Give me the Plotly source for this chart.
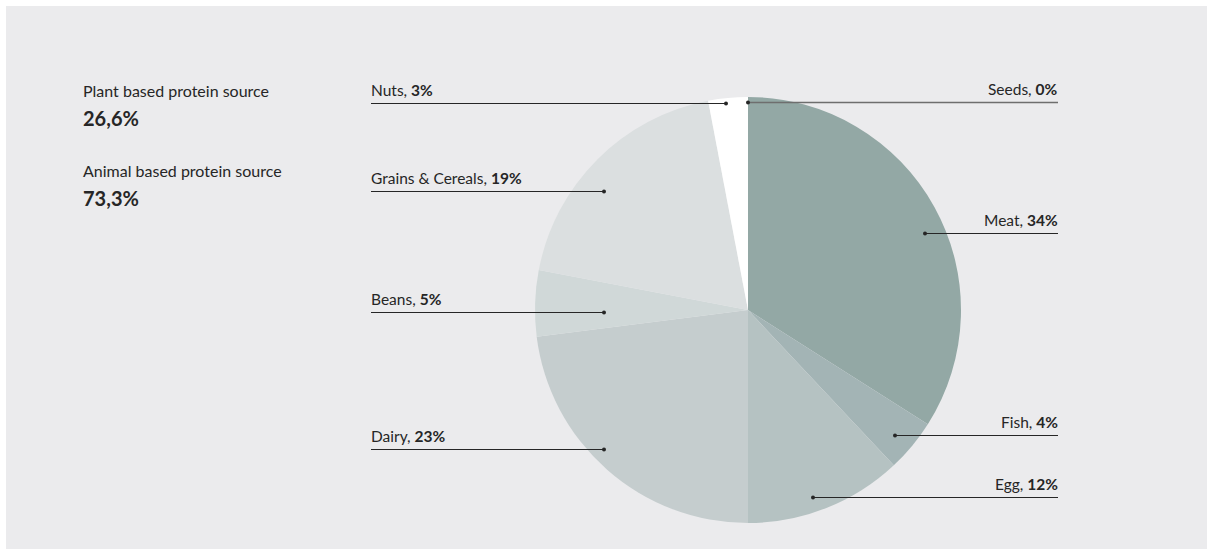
import plotly.graph_objects as go

# Protein sources, clockwise from 12 o'clock
categories = ["Seeds", "Meat", "Fish", "Egg", "Dairy", "Beans", "Grains & Cereals", "Nuts"]
shares = [0, 34, 4, 12, 23, 5, 19, 3]
slice_colors = ["#7f9592", "#93a8a5", "#a3b4b5", "#b5c2c2", "#c5cdce", "#d0d8d8", "#dbdfe0", "#ffffff"]

summary_titles = ["Plant based protein source", "Animal based protein source"]
summary_values = ["26,6%", "73,3%"]

W, H = 1214, 555
BG = "#ebebed"
INK = "#262626"
FONT = "Lato"

# pie placement (pixels)
cx, cy, r = 748, 310, 213

# leader layout per category: side, line y, inner end x
leaders = {
    "Seeds": ("right", 102.5, 748),
    "Meat": ("right", 233.5, 925),
    "Fish": ("right", 435.5, 895),
    "Egg": ("right", 497.5, 813),
    "Dairy": ("left", 449.5, 604),
    "Beans": ("left", 312.5, 604),
    "Grains & Cereals": ("left", 191.5, 604),
    "Nuts": ("left", 103.5, 726),
}
LEFT_X, RIGHT_X = 371, 1058

fig = go.Figure()

fig.add_trace(go.Pie(
    labels=categories,
    values=shares,
    sort=False,
    direction="clockwise",
    rotation=0,
    marker=dict(colors=slice_colors, line=dict(width=0)),
    textinfo="none",
    hoverinfo="label+percent",
    showlegend=False,
    domain=dict(x=[(cx - r) / W, (cx + r) / W], y=[1 - (cy + r) / H, 1 - (cy - r) / H]),
))

shapes = [dict(type="rect", xref="x", yref="y", x0=6, y0=6, x1=1207, y1=549,
               fillcolor=BG, line=dict(width=0), layer="below")]
annotations = []
for name, share in zip(categories, shares):
    side, ly, inner = leaders[name]
    outer = LEFT_X if side == "left" else RIGHT_X
    line_color = "#6e6e6e" if name == "Seeds" else INK
    shapes.append(dict(
        type="line", xref="x", yref="y", x0=outer, x1=inner, y0=ly, y1=ly,
        line=dict(color=line_color, width=1.6 if name == "Seeds" else 1), layer="above",
    ))
    shapes.append(dict(
        type="circle", xref="x", yref="y", x0=inner - 2, x1=inner + 2, y0=ly - 2, y1=ly + 2,
        fillcolor=INK, line=dict(width=0), layer="above",
    ))
    annotations.append(dict(
        x=outer + (-2 if side == "left" else 2), y=ly - 3, xref="x", yref="y",
        text=f"{name}, <b>{share}%</b>",
        showarrow=False,
        xanchor="left" if side == "left" else "right",
        yanchor="bottom",
        font=dict(family=FONT, size=15.5, color=INK),
    ))

# summary block at top left
for i, (title, val) in enumerate(zip(summary_titles, summary_values)):
    y0 = 90 + i * 80
    annotations.append(dict(
        x=81, y=y0, xref="x", yref="y", text=title, showarrow=False,
        xanchor="left", yanchor="middle",
        font=dict(family=FONT, size=16, color=INK),
    ))
    annotations.append(dict(
        x=81, y=y0 + 28, xref="x", yref="y", text=f"<b>{val}</b>", showarrow=False,
        xanchor="left", yanchor="middle",
        font=dict(family=FONT, size=20, color=INK),
    ))

fig.update_layout(
    width=W, height=H,
    margin=dict(l=0, r=0, t=0, b=0),
    paper_bgcolor="#ffffff",
    plot_bgcolor="rgba(0,0,0,0)",
    xaxis=dict(range=[0, W], visible=False, fixedrange=True, domain=[0, 1]),
    yaxis=dict(range=[H, 0], visible=False, fixedrange=True, domain=[0, 1]),
    shapes=shapes,
    annotations=annotations,
    font=dict(family=FONT, color=INK),
)

fig.write_html("out.html", config={"displayModeBar": False})
